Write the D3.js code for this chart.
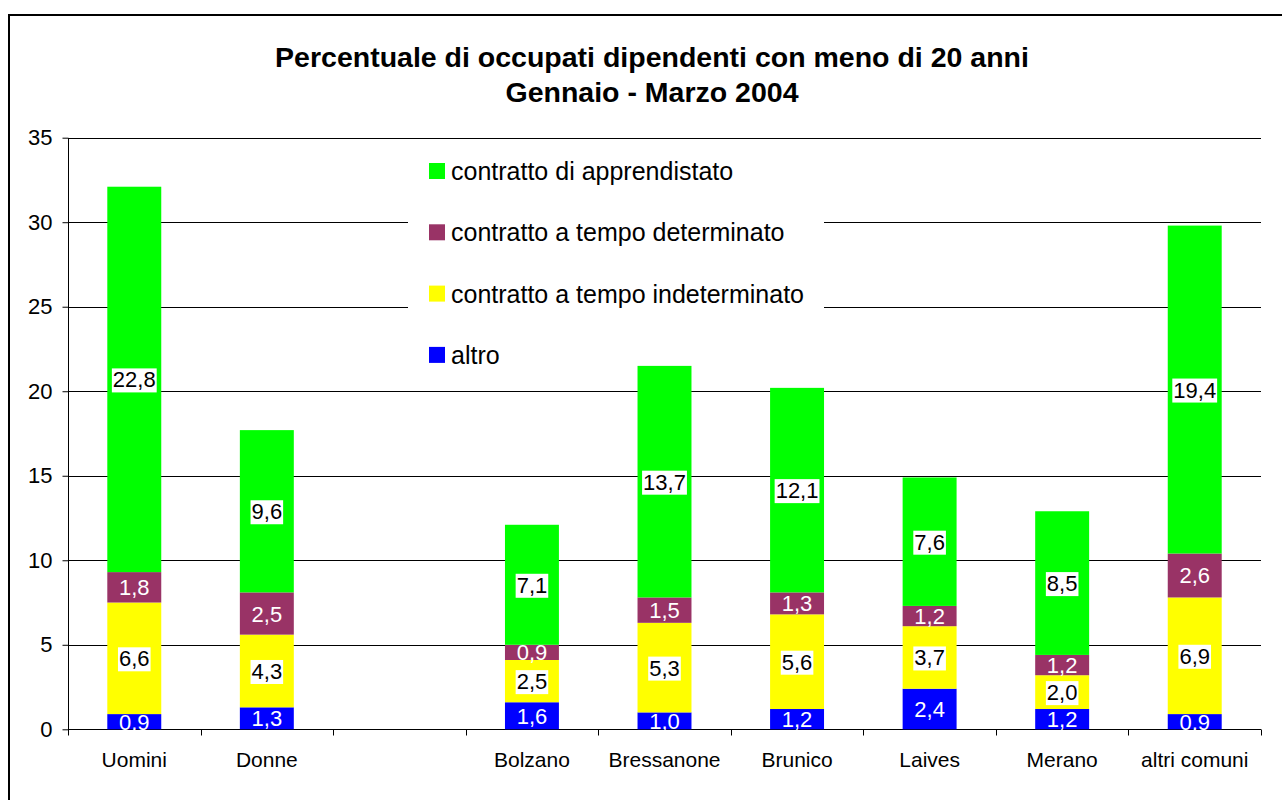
<!DOCTYPE html>
<html><head><meta charset="utf-8">
<script src="https://cdn.jsdelivr.net/npm/d3@7"></script>
<style>body{margin:0;background:#fff;} svg{display:block;font-family:"Liberation Sans",Arial,sans-serif;}</style>
</head><body>
<svg id="c" width="1282" height="800"></svg>
<script>
const categories = ["Uomini","Donne","","Bolzano","Bressanone","Brunico","Laives","Merano","altri comuni"];
const seriesNames = ["altro","contratto a tempo indeterminato","contratto a tempo determinato","contratto di apprendistato"];
const seriesColors = ["#0000FF","#FFFF00","#993366","#00FF00"];
const altro          = [0.9,1.3,null,1.6,1.0,1.2,2.4,1.2,0.9];
const indeterminato  = [6.6,4.3,null,2.5,5.3,5.6,3.7,2.0,6.9];
const determinato    = [1.8,2.5,null,0.9,1.5,1.3,1.2,1.2,2.6];
const apprendistato  = [22.8,9.6,null,7.1,13.7,12.1,7.6,8.5,19.4];
const yTicks = [0,5,10,15,20,25,30,35];
const titleLines = ["Percentuale di occupati dipendenti con meno di 20 anni","Gennaio - Marzo 2004"];

const series = [altro, indeterminato, determinato, apprendistato];
const labelStyle = [{fill:"#fff",box:false},{fill:"#000",box:true},{fill:"#fff",box:false},{fill:"#000",box:true}];

const svg = d3.select("#c");
const L = 68, R = 1261, T = 137.7, B = 729.3;

// outer border
svg.append("rect").attr("x",9).attr("y",15).attr("width",1300).attr("height",820)
  .attr("fill","none").attr("stroke","#000").attr("stroke-width",2);

// title
svg.append("g").selectAll("text").data(titleLines).join("text")
  .attr("x",652).attr("y",(d,i)=>67+i*35).attr("text-anchor","middle")
  .attr("font-weight","bold").attr("font-size",28.5).text(d=>d);

const x = d3.scaleBand().domain(categories).range([L,R]).padding(0);
const y = d3.scaleLinear().domain([0,35]).range([B,T]);
const barW = x.bandwidth()*0.407;

// gridlines
svg.append("g").selectAll("line").data(yTicks.filter(d=>d>0)).join("line")
  .attr("x1",L).attr("x2",R).attr("y1",d=>Math.round(y(d))+0.5).attr("y2",d=>Math.round(y(d))+0.5)
  .attr("stroke","#000").attr("stroke-width",1);

// y axis
const yAxis = svg.append("g").attr("transform",`translate(${L+0.5},0)`)
  .call(d3.axisLeft(y).tickValues(yTicks).tickSize(6).tickPadding(10).tickFormat(d3.format("d")));
yAxis.selectAll("text").attr("font-size",22).attr("fill","#000").attr("font-family","Liberation Sans, Arial, sans-serif");
yAxis.selectAll("line,path").attr("stroke","#000");
yAxis.select("path").attr("d",`M0,${Math.round(y(35))+0.5}V${Math.round(B)+6}`);

// x axis labels (centered) + boundary ticks
const xAxis = svg.append("g").attr("transform",`translate(0,${Math.round(B)+0.5})`)
  .call(d3.axisBottom(x).tickSize(0).tickPadding(23));
xAxis.select("path").attr("d",`M${L},0H${R}`).attr("stroke","#000");
xAxis.selectAll("text").attr("font-size",21).attr("fill","#000").attr("font-family","Liberation Sans, Arial, sans-serif");
const bounds = categories.map(c=>x(c)).concat([R]);
xAxis.selectAll("line.b").data(bounds).join("line").attr("class","b")
  .attr("x1",d=>Math.round(d)+0.5).attr("x2",d=>Math.round(d)+0.5).attr("y1",0).attr("y2",6).attr("stroke","#000");

// stacked data
const rows = categories.map((c,i)=>{let o={cat:c}; seriesNames.forEach((s,k)=>o[s]=series[k][i]||0); return o;});
const stack = d3.stack().keys(seriesNames)(rows);

const gBars = svg.append("g");
stack.forEach((layer,k)=>{
  gBars.selectAll(null).data(layer.filter(d=>d.data[seriesNames[k]]>0)).join("rect")
    .attr("x",d=>x(d.data.cat)+(x.bandwidth()-barW)/2)
    .attr("y",d=>y(d[1])).attr("width",barW).attr("height",d=>y(d[0])-y(d[1]))
    .attr("fill",seriesColors[k]);
});

// legend
const lg = svg.append("g");
lg.append("rect").attr("x",408).attr("y",148).attr("width",416).attr("height",216).attr("fill","#fff");
const legendOrder = [3,2,1,0];
legendOrder.forEach((k,i)=>{
  const cy = 171 + i*61.3;
  lg.append("rect").attr("x",429).attr("y",cy-8).attr("width",16).attr("height",16).attr("fill",seriesColors[k]);
  lg.append("text").attr("x",451).attr("y",cy+9).attr("font-size",25).attr("fill","#000").text(seriesNames[k]);
});

// data labels
const fmt = v=>d3.format(".1f")(v).replace(".",",");
const gL = svg.append("g");
stack.forEach((layer,k)=>{
  layer.filter(d=>d.data[seriesNames[k]]>0).forEach(d=>{
    const v = d.data[seriesNames[k]];
    const cx = x(d.data.cat)+x.bandwidth()/2;
    const cy = (y(d[0])+y(d[1]))/2;
    const st = labelStyle[k];
    const t = gL.append("text").attr("x",cx).attr("y",cy+8).attr("text-anchor","middle")
      .attr("font-size",22).attr("fill",st.fill).text(fmt(v));
    if(st.box){
      const bb = t.node().getBBox();
      gL.insert("rect",()=>t.node()).attr("x",bb.x-1).attr("y",bb.y+1).attr("width",bb.width+2).attr("height",bb.height-1).attr("fill","#fff");
    }
  });
});
</script>
</body></html>
